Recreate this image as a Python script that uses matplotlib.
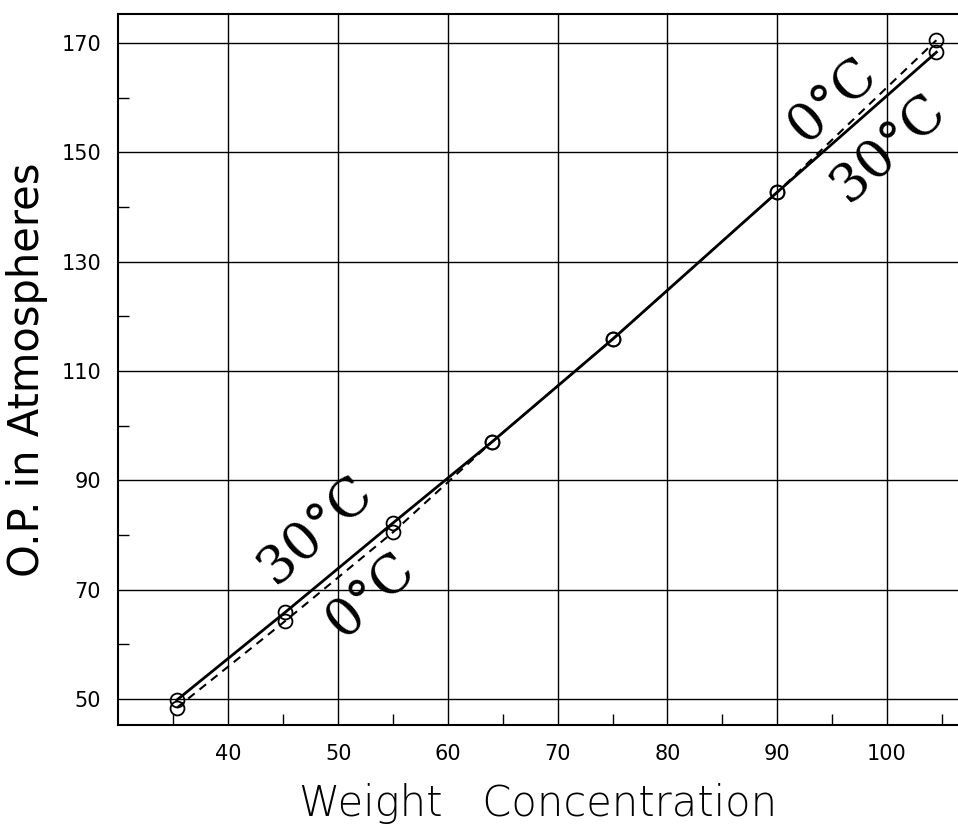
import matplotlib
matplotlib.use("Agg")
import matplotlib.pyplot as plt
from matplotlib.ticker import FixedLocator

# concentracoes
conc = [35.3, 45.2, 55.0, 64.0, 75.0, 90.0, 104.5]
op_30 = [49.8, 65.9, 82.2, 97.0, 115.8, 142.7, 168.3]
op_0 = [48.4, 64.3, 80.5, 97.0, 115.8, 142.7, 170.5]

xticks = [40, 50, 60, 70, 80, 90, 100]
yticks = [50, 70, 90, 110, 130, 150, 170]
xminor = [35, 45, 55, 65, 75, 85, 95, 105]
yminor = [60, 80, 100, 120, 140, 160]

fig = plt.figure(figsize=(9.58, 8.32), dpi=100)
ax = fig.add_axes([0.123, 0.1286, 0.877, 0.8546])

ax.plot(conc, op_30, color="black", lw=2.0, ls="-", marker="o", ms=10,
        mfc="none", mec="black", mew=1.3, zorder=3)
ax.plot(conc, op_0, color="black", lw=1.5, ls=(0, (4, 3)), marker="o", ms=10,
        mfc="none", mec="black", mew=1.3, zorder=3)

ax.set_xlim(29.93, 106.47)
ax.set_ylim(45.24, 175.3)
ax.set_xticks(xticks)
ax.set_yticks(yticks)
ax.xaxis.set_minor_locator(FixedLocator(xminor))
ax.yaxis.set_minor_locator(FixedLocator(yminor))
ax.grid(True, which="major", color="black", lw=1.0)
ax.tick_params(which="major", length=0, labelsize=15, pad=14)
ax.tick_params(which="minor", direction="in", length=8, width=1.0)
ax.tick_params(axis="y", which="major", pad=12)
for s in ("left", "bottom", "top"):
    ax.spines[s].set_linewidth(1.5)
ax.spines["right"].set_visible(False)

for lab in ax.get_xticklabels() + ax.get_yticklabels():
    lab.set_family("DejaVu Sans")

ax.set_xlabel("Weight   Concentration", fontsize=30, family="DejaVu Sans",
              fontweight="light", labelpad=13)
ax.set_ylabel("O.P. in Atmospheres", fontsize=30, family="DejaVu Sans",
              labelpad=10)

kw = dict(fontsize=38, family="DejaVu Serif", fontweight="normal",
          rotation=42, ha="center", va="center")
ax.text(47.9, 80.9, "30°C", **kw)
ax.text(52.9, 69.0, "0°C", **kw)
ax.text(95.0, 159.6, "0°C", **kw)
ax.text(100.1, 150.8, "30°C", **kw)

plt.savefig("out.png", dpi=100)
